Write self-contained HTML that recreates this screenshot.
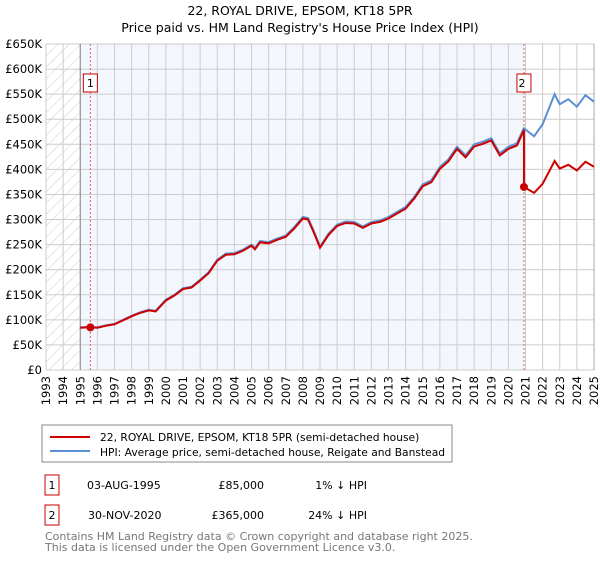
<!DOCTYPE html>
<html><head><meta charset="utf-8"><style>
body{margin:0;background:#fff;font-family:"DejaVu Sans","Liberation Sans",sans-serif;}
svg text{font-family:"DejaVu Sans","Liberation Sans",sans-serif;}
</style></head><body>
<svg id="c" width="600" height="560" xmlns="http://www.w3.org/2000/svg">
<defs><pattern id="hatch" width="8" height="8" patternUnits="userSpaceOnUse" patternTransform="rotate(45)"><line x1="0" y1="0" x2="0" y2="8" stroke="#ccc" stroke-width="1"/></pattern></defs>
<text x="300" y="15" text-anchor="middle" font-size="12.5">22, ROYAL DRIVE, EPSOM, KT18 5PR</text>
<text x="300" y="32" text-anchor="middle" font-size="12.5">Price paid vs. HM Land Registry's House Price Index (HPI)</text>
<g id="plot"></g>
<rect x="42" y="425" width="410" height="37" fill="#fff" stroke="#888"/>
<line x1="50" y1="437" x2="90" y2="437" stroke="#cc0000" stroke-width="2"/>
<text x="100" y="441" font-size="10.7">22, ROYAL DRIVE, EPSOM, KT18 5PR (semi-detached house)</text>
<line x1="50" y1="451" x2="90" y2="451" stroke="#5b8fd4" stroke-width="2"/>
<text x="100" y="456" font-size="10.7">HPI: Average price, semi-detached house, Reigate and Banstead</text>
<rect x="45" y="475" width="14" height="20" fill="#fff" stroke="#cc0000"/>
<text x="52" y="489" text-anchor="middle" font-size="11">1</text>
<text x="87" y="489" font-size="11">03-AUG-1995</text>
<text x="264" y="489" text-anchor="end" font-size="11">£85,000</text>
<text x="367" y="489" text-anchor="end" font-size="11">1% ↓ HPI</text>
<rect x="45" y="505" width="14" height="20" fill="#fff" stroke="#cc0000"/>
<text x="52" y="519" text-anchor="middle" font-size="11">2</text>
<text x="88" y="519" font-size="11">30-NOV-2020</text>
<text x="264" y="519" text-anchor="end" font-size="11">£365,000</text>
<text x="367" y="519" text-anchor="end" font-size="11">24% ↓ HPI</text>
<text x="45" y="540" font-size="11" fill="#777">Contains HM Land Registry data © Crown copyright and database right 2025.</text>
<text x="45" y="551" font-size="11" fill="#777">This data is licensed under the Open Government Licence v3.0.</text>
</svg>
<script>
const hpiDates=[1995,1995.5,1996,1996.5,1997,1997.5,1998,1998.5,1999,1999.4,2000,2000.5,2001,2001.5,2002,2002.5,2003,2003.5,2004,2004.5,2005,2005.2,2005.5,2006,2006.5,2007,2007.5,2008,2008.3,2008.6,2009,2009.5,2010,2010.5,2011,2011.5,2012,2012.5,2013,2013.5,2014,2014.5,2015,2015.5,2016,2016.5,2017,2017.5,2018,2018.5,2019,2019.5,2020,2020.5,2020.9,2021.5,2022,2022.7,2023,2023.5,2024,2024.5,2025];
const hpiValues=[85,86,85,89,92,100,108,115,120,118,140,150,163,166,180,195,220,232,233,240,250,243,257,255,262,268,285,305,303,280,246,272,290,296,295,286,295,298,305,315,325,345,370,378,405,420,445,428,450,455,462,432,445,452,482,466,490,550,530,540,525,548,535];
const yTicks=[0,50,100,150,200,250,300,350,400,450,500,550,600,650];
const xTicks=[1993,1994,1995,1996,1997,1998,1999,2000,2001,2002,2003,2004,2005,2006,2007,2008,2009,2010,2011,2012,2013,2014,2015,2016,2017,2018,2019,2020,2021,2022,2023,2024,2025];
const saleDates=[1995.59,2020.91];
const salePrices=[85,365];
const L=46,R=594,T=44,B=370;
const xs=d=>L+(d-1993)/32*(R-L);
const ys=v=>B-v/650*(B-T);
const NS="http://www.w3.org/2000/svg";
const g=document.getElementById('plot');
function mk(t,a,name){const e=document.createElementNS(NS,t);for(const k in a)e.setAttribute(k,a[k]);


g.appendChild(e);return e;}
function hpiAt(d){for(let i=1;i<hpiDates.length;i++){if(d<=hpiDates[i]){const t=(d-hpiDates[i-1])/(hpiDates[i]-hpiDates[i-1]);return hpiValues[i-1]+t*(hpiValues[i]-hpiValues[i-1]);}}return hpiValues[hpiValues.length-1];}
mk('rect',{x:L,y:T,width:R-L,height:B-T,fill:'#fff'},'plot-background');
mk('rect',{x:L,y:T,width:xs(1995)-L,height:B-T,fill:'url(#hatch)'},'pre-data-hatch');
mk('rect',{x:xs(1995),y:T,width:xs(saleDates[1])-xs(1995),height:B-T,fill:'#f3f6fd'},'ownership-shade');
yTicks.forEach(v=>{mk('line',{x1:L,x2:R,y1:ys(v),y2:ys(v),stroke:'#ccc'},'y-gridline');
const t=mk('text',{x:L-4,y:ys(v)+4,'text-anchor':'end','font-size':'11.5'},'y-tick-label');t.textContent='£'+(v?v+'K':'0');});
xTicks.forEach(d=>{mk('line',{x1:xs(d),x2:xs(d),y1:T,y2:B,stroke:'#ccc'},'x-gridline');
const t=mk('text',{x:0,y:0,'text-anchor':'end','font-size':'11.5',transform:`translate(${xs(d)+4},${B+6}) rotate(-90)`},'x-tick-label');t.textContent=d;});
mk('line',{x1:xs(1995),x2:xs(1995),y1:T,y2:B,stroke:'#888'},'data-start-line');
mk('line',{x1:R,x2:R,y1:T,y2:B,stroke:'#aaa'},'plot-right-edge');
saleDates.forEach((d,i)=>{mk('line',{x1:xs(d),x2:xs(d),y1:T,y2:B,stroke:'#e06060','stroke-dasharray':'2,2'},'sale-'+(i+1)+'-line');});
mk('polyline',{points:hpiDates.map((d,i)=>xs(d)+','+ys(hpiValues[i])).join(' '),fill:'none',stroke:'#5b8fd4','stroke-width':2},'hpi-line');
const r1=salePrices[0]/hpiAt(saleDates[0]),r2=salePrices[1]/hpiAt(saleDates[1]);
let pts=[];
hpiDates.forEach((d,i)=>{if(d<saleDates[1])pts.push(xs(d)+','+ys(hpiValues[i]*r1));});
pts.push(xs(saleDates[1])+','+ys(hpiAt(saleDates[1])*r1));
pts.push(xs(saleDates[1])+','+ys(salePrices[1]));
hpiDates.forEach((d,i)=>{if(d>saleDates[1])pts.push(xs(d)+','+ys(hpiValues[i]*r2));});
mk('polyline',{points:pts.join(' '),fill:'none',stroke:'#cc0000','stroke-width':2},'property-line');
saleDates.forEach((d,i)=>{mk('circle',{cx:xs(d),cy:ys(salePrices[i]),r:4,fill:'#cc0000'},'sale-'+(i+1)+'-point');
mk('rect',{x:xs(d)-7,y:74,width:14,height:18,fill:'#fff',stroke:'#cc0000'},'sale-'+(i+1)+'-marker');
const t=mk('text',{x:xs(d)-(i?2:0),y:87,'text-anchor':'middle','font-size':'11'},'sale-'+(i+1)+'-marker-label');t.textContent=i+1;});
</script>
</body></html>
